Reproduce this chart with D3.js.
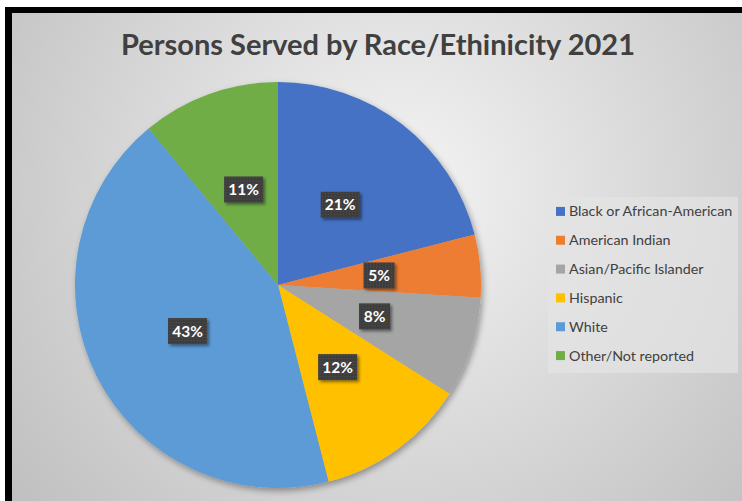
<!DOCTYPE html>
<html>
<head>
<meta charset="utf-8">
<script src="https://cdn.jsdelivr.net/npm/d3@7"></script>
<style>
  body { margin: 0; background: #fff; }
  svg { display: block; }
</style>
</head>
<body>
<svg width="742" height="501"></svg>
<script>
const categories = ['Black or African-American', 'American Indian', 'Asian/Pacific Islander', 'Hispanic', 'White', 'Other/Not reported'];
const values = [21, 5, 8, 12, 43, 11];
const colors = ['#4472C4', '#ED7D31', '#A5A5A5', '#FFC000', '#5B9BD5', '#70AD47'];
const title = 'Persons Served by Race/Ethinicity 2021';

const svg = d3.select('svg');
const defs = svg.append('defs');

// background gradient like the excel chart area
const grad = defs.append('radialGradient')
  .attr('id', 'bg')
  .attr('gradientUnits', 'userSpaceOnUse')
  .attr('cx', 400).attr('cy', 190).attr('r', 500);
grad.append('stop').attr('offset', '0%').attr('stop-color', '#f4f4f4');
grad.append('stop').attr('offset', '100%').attr('stop-color', '#bfbfbf');

const shadow = defs.append('filter').attr('id', 'shadow')
  .attr('x', '-20%').attr('y', '-20%').attr('width', '140%').attr('height', '140%');
shadow.append('feDropShadow')
  .attr('dx', 2).attr('dy', 3).attr('stdDeviation', 3)
  .attr('flood-color', '#000').attr('flood-opacity', 0.35);

const boxShadow = defs.append('filter').attr('id', 'boxshadow')
  .attr('x', '-30%').attr('y', '-30%').attr('width', '170%').attr('height', '170%');
boxShadow.append('feDropShadow')
  .attr('dx', 2).attr('dy', 2).attr('stdDeviation', 1.5)
  .attr('flood-color', '#000').attr('flood-opacity', 0.45);

// dotted texture on the label boxes
const pat = defs.append('pattern').attr('id', 'dots')
  .attr('width', 3).attr('height', 3).attr('patternUnits', 'userSpaceOnUse');
pat.append('rect').attr('width', 3).attr('height', 3).attr('fill', '#3d3d3d');
pat.append('rect').attr('width', 1).attr('height', 1).attr('fill', '#555');

// frame
svg.append('rect').attr('x', 12).attr('y', 13).attr('width', 730).attr('height', 488)
  .attr('fill', 'url(#bg)');
svg.append('rect').attr('x', 5).attr('y', 7).attr('width', 737).attr('height', 6).attr('fill', '#000');
svg.append('rect').attr('x', 5).attr('y', 7).attr('width', 7).attr('height', 494).attr('fill', '#000');

svg.append('text')
  .attr('x', 378).attr('y', 55)
  .attr('text-anchor', 'middle')
  .style('font-family', 'Lato')
  .style('font-weight', 'bold')
  .style('font-size', '29px')
  .attr('fill', '#404040')
  .text(title);

const cx = 278, cy = 285, R = 203;
const data = categories.map((c, i) => ({ name: c, value: values[i], color: colors[i] }));

const pie = d3.pie().value(d => d.value).sort(null);
const arc = d3.arc().innerRadius(0).outerRadius(R);
const labelArc = d3.arc().innerRadius(R * 0.5).outerRadius(R * 0.5);
const arcs = pie(data);

const g = svg.append('g').attr('transform', `translate(${cx},${cy})`);

g.append('g').attr('filter', 'url(#shadow)')
  .selectAll('path')
  .data(arcs)
  .join('path')
  .attr('d', arc)
  .attr('fill', d => d.data.color);

const labels = g.selectAll('g.lbl')
  .data(arcs)
  .join('g')
  .attr('class', 'lbl')
  .attr('transform', d => `translate(${labelArc.centroid(d)})`);

labels.append('rect')
  .attr('x', d => d.data.value < 10 ? -15.5 : -19.5)
  .attr('y', -13)
  .attr('width', d => d.data.value < 10 ? 31 : 39)
  .attr('height', 26)
  .attr('fill', 'url(#dots)')
  .attr('filter', 'url(#boxshadow)');

labels.append('text')
  .attr('text-anchor', 'middle')
  .attr('dy', '0.36em')
  .style('font-family', 'Lato')
  .style('font-weight', 'bold')
  .style('font-size', '15.5px')
  .attr('fill', '#fff')
  .text(d => d.data.value + '%');

// legend
const legend = svg.append('g').attr('transform', 'translate(548,197)');
legend.append('rect').attr('width', 190).attr('height', 176).attr('fill', '#e4e4e4').attr('opacity', 0.7);

const y = d3.scaleBand().domain(categories).range([0, 173]);

const item = legend.selectAll('g.item')
  .data(data)
  .join('g')
  .attr('class', 'item')
  .attr('transform', d => `translate(0,${y(d.name) + y.bandwidth() / 2})`);

item.append('rect')
  .attr('x', 8).attr('y', -4.5).attr('width', 9).attr('height', 9)
  .attr('fill', d => d.color);

item.append('text')
  .attr('x', 21).attr('dy', '0.35em')
  .style('font-family', 'Lato')
  .style('font-size', '14.3px')
  .attr('fill', '#404040')
  .text(d => d.name);
</script>
</body>
</html>
